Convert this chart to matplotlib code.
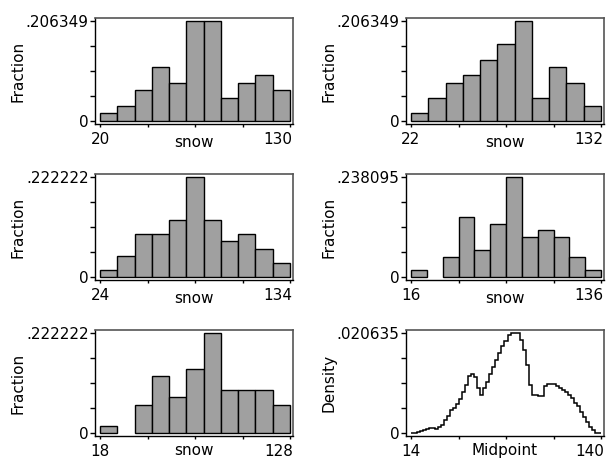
import numpy as np
import matplotlib
matplotlib.use("Agg")
import matplotlib.pyplot as plt

plt.rcParams['font.family'] = ['DejaVu Sans']
plt.rcParams['font.size'] = 11

# snowfall data, n = 63, five shifted histograms with bin width 10
n_obs = 63
bin_width = 10
origins = [20, 22, 24, 16, 18]
counts = [
    [1, 2, 4, 7, 5, 13, 13, 3, 5, 6, 4],
    [1, 3, 5, 6, 8, 10, 13, 3, 7, 5, 2],
    [1, 3, 6, 6, 8, 14, 8, 5, 6, 4, 2],
    [1, 0, 3, 9, 4, 8, 15, 6, 7, 6, 3, 1],
    [1, 0, 4, 8, 5, 9, 14, 6, 6, 6, 4],
]

# averaged shifted histogram, fine bins of width 2 from 14 to 140
ash_start = 14
ash_step = 2
ash_density = [
    0.0000, 0.0001, 0.0002, 0.0005, 0.0006, 0.0009, 0.0011, 0.0010, 0.0008,
    0.0012, 0.0017, 0.0026, 0.0036, 0.0048, 0.0052, 0.0060, 0.0071, 0.0085,
    0.0099, 0.0117, 0.0122, 0.0115, 0.0094, 0.0079, 0.0094, 0.0106, 0.0122,
    0.0137, 0.0152, 0.0166, 0.0181, 0.0190, 0.0203, 0.020635, 0.020635,
    0.020635, 0.0192, 0.0172, 0.0140, 0.0099, 0.0079, 0.0078, 0.0076, 0.0076,
    0.0097, 0.0102, 0.0101, 0.0101, 0.0098, 0.0094, 0.0090, 0.0085, 0.0079,
    0.0072, 0.0063, 0.0055, 0.0044, 0.0033, 0.0022, 0.0012, 0.0006, 0.0001,
    0.0000,
]

W, H = 606, 459
fig = plt.figure(figsize=(W / 100, H / 100), dpi=100)

col_left = [95, 406]
row_top = [18, 174, 330]
label_drop = [23, 23, 19]   # px from box bottom to x-label baseline
box_w, box_h = 198, 106


def add_box(col, row):
    l = col_left[col]
    t = row_top[row]
    return fig.add_axes([l / W, (H - t - box_h) / H, box_w / W, box_h / H])


def stata_num(v):
    s = f"{v:.6f}".rstrip('0').rstrip('.')
    if s.startswith('0.'):
        s = s[1:]
    return s


def frame(ax, row, x0, x1, ymax, ylabel, xlabel):
    s = (x1 - x0) / 190
    ax.set_xlim(x0 - 5 * s, x1 + 3 * s)
    t = ymax / 100
    ax.set_ylim(-3 * t, ymax + 3.3 * t)

    ax.set_xticks(np.linspace(x0, x1, 5))
    ax.set_xticklabels([])
    ax.set_yticks(np.linspace(0, ymax, 5))
    ax.set_yticklabels(["0", "", "", "", stata_num(ymax)])
    ax.tick_params(axis='y', direction='out', length=3.6, width=1, pad=1)
    ax.tick_params(axis='x', direction='out', length=2.2, width=1)

    # only the end values are labelled on x
    ax.annotate(f"{x0:g}", xy=(x0, 0), xycoords=('data', 'axes fraction'),
                xytext=(0, -5.5), textcoords='offset points',
                ha='center', va='top')
    ax.annotate(f"{x1:g}", xy=(x1, 0), xycoords=('data', 'axes fraction'),
                xytext=(2, -5.5), textcoords='offset points',
                ha='right', va='top')

    ax.set_ylabel(ylabel)
    ax.yaxis.set_label_coords(-0.35, 0.5)
    ax.set_xlabel(xlabel, va='baseline')
    ax.xaxis.set_label_coords(0.5, -label_drop[row] / box_h)

    for side in ['left', 'bottom']:
        ax.spines[side].set_color('black')
        ax.spines[side].set_linewidth(1)
    for side in ['top', 'right']:
        ax.spines[side].set_color('#555555')
        ax.spines[side].set_linewidth(1.2)


places = [(0, 0), (1, 0), (0, 1), (1, 1), (0, 2)]
for (col, row), x0, c in zip(places, origins, counts):
    ax = add_box(col, row)
    c = np.array(c)
    frac = c / n_obs
    edges = x0 + bin_width * np.arange(len(c) + 1)
    keep = c > 0
    ax.bar(edges[:-1][keep], frac[keep], width=bin_width, align='edge',
           color='#a0a0a0', edgecolor='black', linewidth=1)
    frame(ax, row, edges[0], edges[-1], frac.max(), 'Fraction', 'snow')

ax = add_box(1, 2)
dens = np.array(ash_density)
ash_edges = ash_start + ash_step * np.arange(len(dens) + 1)
ax.stairs(dens, ash_edges, color='black', linewidth=1.1, baseline=None)
frame(ax, 2, ash_edges[0], ash_edges[-1], dens.max(), 'Density', 'Midpoint')

fig.savefig('out.png', dpi=100)
